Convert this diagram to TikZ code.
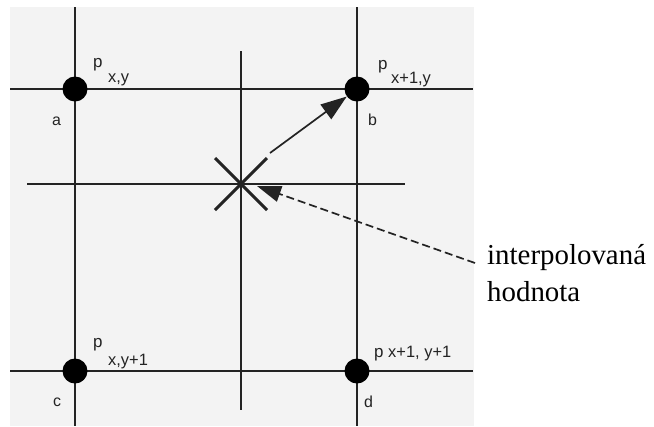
\documentclass[tikz,border=0pt]{standalone}
\usepackage{fontspec}
\setmainfont{Liberation Serif}
\setsansfont{Liberation Sans}
\usetikzlibrary{arrows.meta}
\definecolor{bgc}{RGB}{243,243,243}
\definecolor{linec}{RGB}{35,35,35}
\begin{document}
\begin{tikzpicture}[x=1bp,y=-1bp,
  gridline/.style={line width=1.7bp, draw=linec},
  xmark/.style={line width=3bp, draw=linec},
  dot/.style={circle, fill=black, minimum size=25bp, inner sep=0pt},
  plabel/.style={anchor=base west, inner sep=0pt, font=\sffamily\fontsize{17}{17}\selectfont, text=linec},
  sublabel/.style={anchor=base west, inner sep=0pt, font=\sffamily\fontsize{16.5}{16.5}\selectfont, text=linec},
  ptname/.style={anchor=base west, inner sep=0pt, font=\sffamily\fontsize{16}{16}\selectfont, text=linec},
  bigtext/.style={anchor=base west, inner sep=0pt, font=\rmfamily\fontsize{29}{29}\selectfont, text=black},
  solidarr/.style={line width=1.7bp, draw=linec, -{Triangle[length=26bp,width=18bp]}},
  dasharr/.style={line width=1.7bp, draw=linec, dash pattern=on 8bp off 4bp, -{Triangle[length=24bp,width=16bp]}}
]
\useasboundingbox (0,0) rectangle (654,426);
\fill[white] (0,0) rectangle (654,426);
\fill[bgc] (10,7) rectangle (474,426);

% grid lines
\draw[gridline] (75,7) -- (75,426);
\draw[gridline] (357,7) -- (357,426);
\draw[gridline] (241,51) -- (241,410);
\draw[gridline] (10,89) -- (473,89);
\draw[gridline] (27,184) -- (405,184);
\draw[gridline] (10,371) -- (473,371);

% grid points
\node[dot] (a) at (75,89) {};
\node[dot] (b) at (357,89) {};
\node[dot] (c) at (75,371) {};
\node[dot] (d) at (357,371) {};

% interpolated point
\coordinate (ip) at (241,184);
\draw[xmark] (ip) ++(-26,-26) -- ++(52,52);
\draw[xmark] (ip) ++(-26,26) -- ++(52,-52);

% labels
\node[plabel] (pa) at (93,67) {p};
\node[sublabel] (sa) at (108,82) {x,y};
\node[plabel] (pb) at (378,69) {p};
\node[sublabel] (sb) at (391,83) {x+1,y};
\node[plabel] (pc) at (93,347) {p};
\node[sublabel] (sc) at (108,365) {x,y+1};
\node[plabel] (pd) at (374,357) {p};
\node[sublabel] (sd) at (388,357) {x+1, y+1};

\node[ptname] (la) at (52,125) {a};
\node[ptname] (lb) at (368,125) {b};
\node[ptname] (lc) at (53,406) {c};
\node[ptname] (ld) at (364,407) {d};

% arrows
\coordinate (s) at (270,153);
\draw[solidarr] (s) -- (b);

\node[bigtext] (t1) at (487,264) {interpolovaná};
\node[bigtext] (t2) at (487,301) {hodnota};
\coordinate (de) at (475,263);
\coordinate (dt) at (257,186);
\draw[dasharr] (de) -- (dt);
\end{tikzpicture}
\end{document}
